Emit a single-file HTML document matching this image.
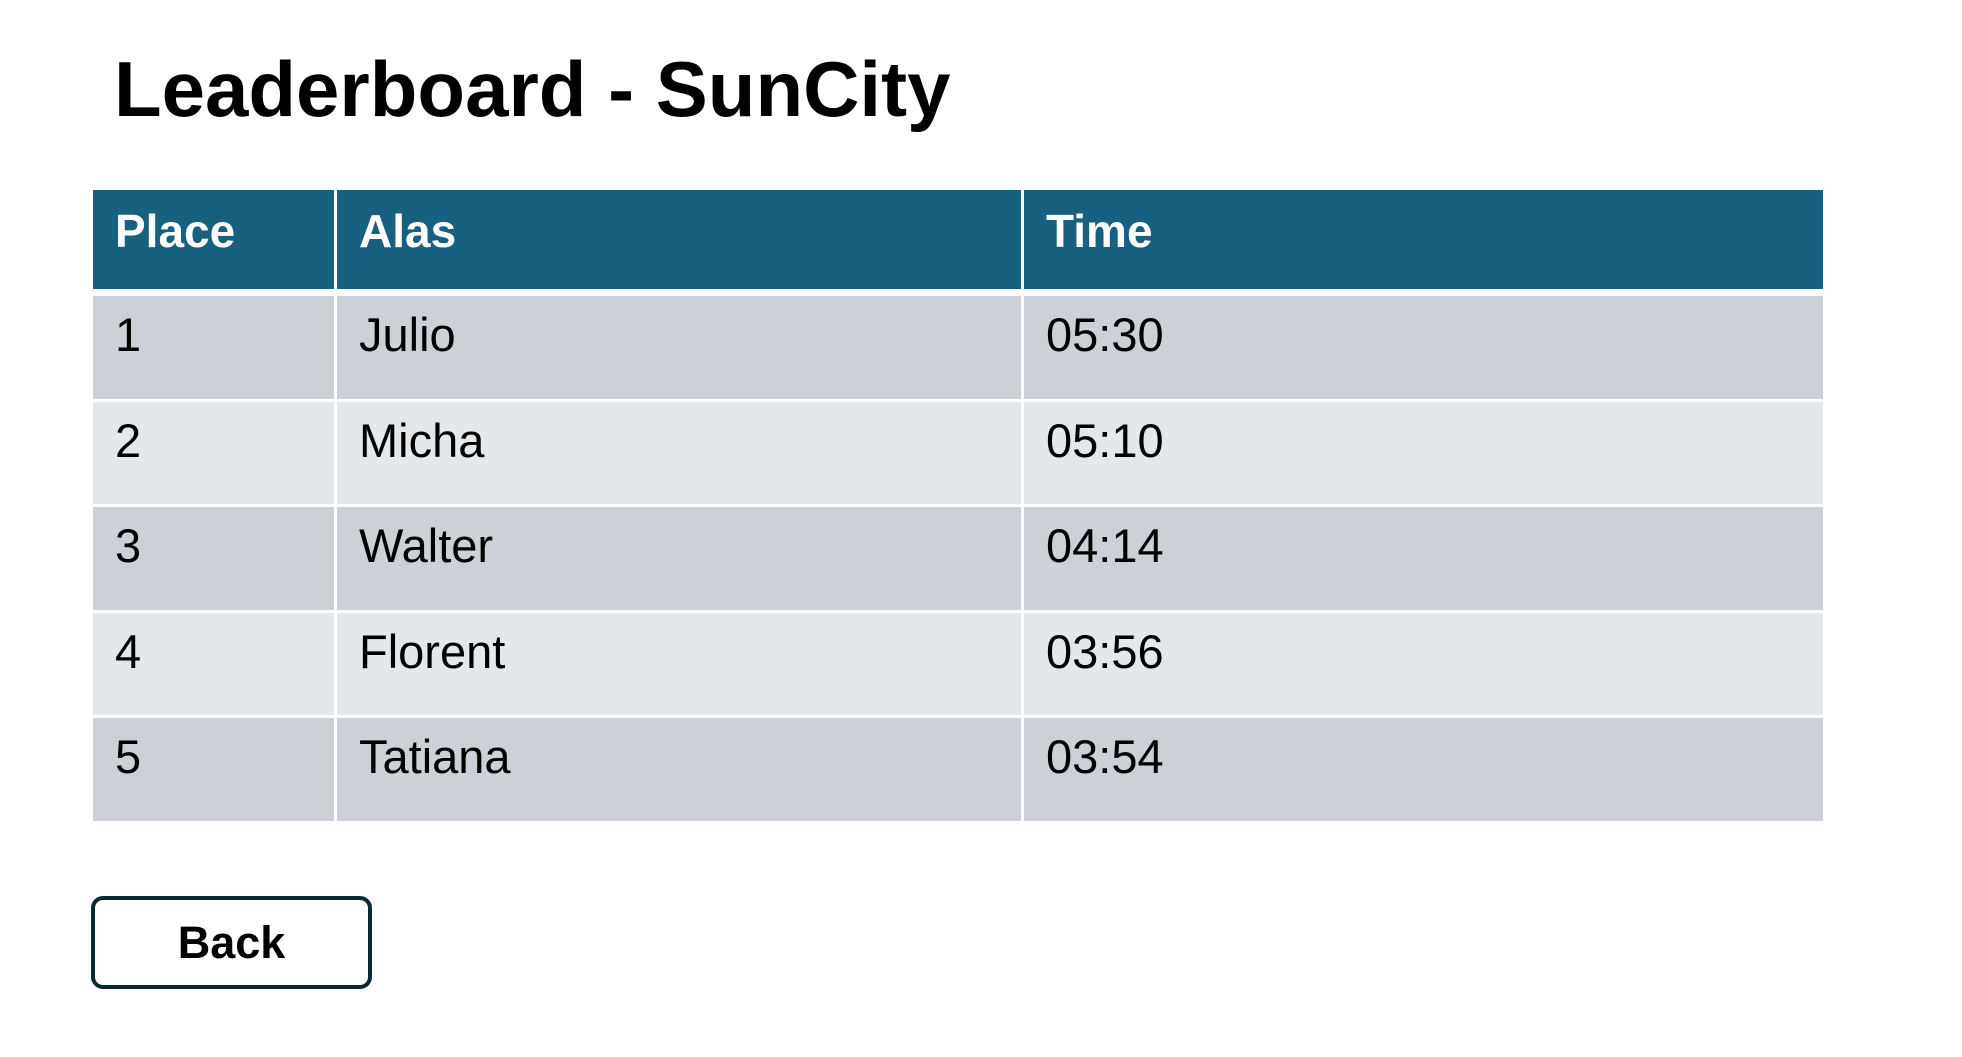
<!DOCTYPE html>
<html><head><meta charset="utf-8"><style>
body{margin:0;width:1962px;height:1057px;background:#fff;position:relative;overflow:hidden;font-family:"Liberation Sans",sans-serif;}
.t{position:absolute;white-space:nowrap;line-height:1;}
.cell{position:absolute;}
</style></head><body>
<div class="t" style="left:114px;top:50px;font-size:78px;font-weight:bold;color:#000;">Leaderboard - SunCity</div>
<div id="tbl"></div>
<div style="position:absolute;left:91px;top:896px;width:273px;height:85px;border:4px solid #0d2733;border-radius:12px;display:flex;align-items:center;justify-content:center;font-size:45px;font-weight:bold;">Back</div>
<script>
const headers=['Place','Alas','Time'];
const places=['1','2','3','4','5'];
const names=['Julio','Micha','Walter','Florent','Tatiana'];
const times=['05:30','05:10','04:14','03:56','03:54'];
const colX=[93,337,1024,1826];
const tbl=document.getElementById('tbl');
function cell(x,y,w,h,bg,txt,bold,color,name){
  const d=document.createElement('div');
  d.className='cell';
  d.style.cssText=`left:${x}px;top:${y}px;width:${w}px;height:${h}px;background:${bg};`;
  
  
  const s=document.createElement('div');
  s.className='t';
  s.style.cssText=`left:22px;top:${bold?18:15}px;font-size:${bold?46:47}px;font-weight:${bold?'bold':'normal'};color:${color};`;
  s.textContent=txt;
  d.appendChild(s);
  tbl.appendChild(d);
}
for(let c=0;c<3;c++){
  cell(colX[c],190,colX[c+1]-colX[c]-3,99,'#17607f',headers[c],true,'#fff','header-cell');
}
const rowH=105.5;
for(let r=0;r<places.length;r++){
  const y=Math.round(296+r*rowH);
  const h=Math.round(296+(r+1)*rowH)-y-3;
  const bg=r%2==0?'#ccd1d8':'#e5e8eb';
  const vals=[places[r],names[r],times[r]];
  for(let c=0;c<3;c++){
    cell(colX[c],y,colX[c+1]-colX[c]-3,h,bg,vals[c],false,'#000','table-cell');
  }
}
</script>
</body></html>
